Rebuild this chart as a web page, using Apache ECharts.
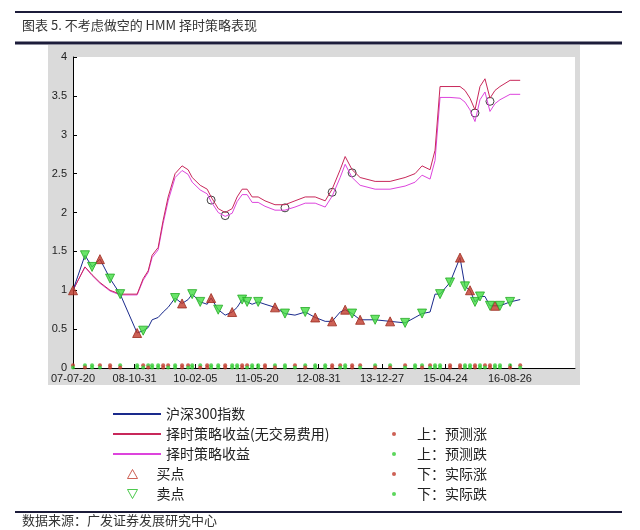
<!DOCTYPE html>
<html><head><meta charset="utf-8">
<script src="https://cdn.jsdelivr.net/npm/echarts@6/dist/echarts.min.js"></script>
<style>html,body{margin:0;padding:0;background:#fff}#c{width:640px;height:530px}</style>
</head><body><div id="c"></div>
<script>
const dates = ['2007-07-20','2007-10-19','2007-12-12','2008-02-10','2008-04-27','2008-07-13','2008-11-19','2009-01-04','2009-02-11','2009-03-13',
'2009-04-28','2009-06-05','2009-07-13','2009-09-04','2009-10-27','2009-12-12','2010-01-12','2010-03-14','2010-05-06','2010-06-05',
'2010-07-29','2010-09-20','2010-11-12','2010-12-20','2011-01-27','2011-03-06','2011-04-13','2011-05-29','2011-07-20','2011-10-04',
'2011-12-19','2012-03-04','2012-05-21','2012-08-05','2012-10-20','2012-12-12','2013-02-11','2013-03-21','2013-05-13','2013-07-13',
'2013-11-04','2014-02-26','2014-06-20','2014-09-04','2014-10-27','2014-12-27','2015-02-03','2015-03-13','2015-05-28','2015-08-12',
'2015-09-19','2015-10-27','2015-12-04','2016-01-11','2016-02-18','2016-03-27','2016-05-04','2016-06-11','2016-08-27','2016-11-12'];
const hs300 = [1.00,1.45,1.30,1.40,1.15,0.95,0.45,0.48,0.52,0.62,
0.65,0.72,0.78,0.90,0.83,0.88,0.95,0.85,0.82,0.90,
0.75,0.68,0.72,0.78,0.88,0.85,0.82,0.85,0.82,0.78,
0.70,0.68,0.72,0.65,0.60,0.60,0.72,0.75,0.70,0.62,
0.62,0.60,0.58,0.65,0.70,0.72,0.95,0.95,1.10,1.42,
1.05,1.00,0.85,0.92,0.92,0.80,0.80,0.80,0.85,0.88];
const stratNoFee = [1.00,1.30,1.20,1.10,1.00,0.95,0.95,1.15,1.25,1.45,
1.55,1.90,2.20,2.50,2.60,2.55,2.45,2.35,2.30,2.20,
2.05,2.00,2.05,2.20,2.30,2.30,2.20,2.20,2.15,2.10,
2.10,2.15,2.20,2.20,2.15,2.30,2.55,2.72,2.55,2.45,
2.40,2.40,2.45,2.50,2.60,2.55,2.80,3.62,3.62,3.62,
3.57,3.47,3.32,3.62,3.72,3.47,3.57,3.62,3.70,3.70];
const stratFee = [1.00,1.30,1.19,1.09,0.99,0.94,0.94,1.13,1.23,1.42,
1.52,1.86,2.15,2.45,2.54,2.49,2.39,2.29,2.24,2.14,
2.00,1.95,1.99,2.14,2.23,2.23,2.13,2.13,2.08,2.03,
2.03,2.07,2.12,2.12,2.07,2.21,2.45,2.62,2.45,2.35,
2.30,2.30,2.34,2.39,2.48,2.43,2.67,3.48,3.48,3.47,
3.42,3.32,3.17,3.45,3.55,3.30,3.40,3.45,3.52,3.52];
const circleIdx = [19,21,30,35,38,52,55];
const buyIdx = [0,3,6,14,19,22,29,33,35,37,39,41,49,51,56];
const sellIdx = [1,2,4,5,7,13,16,17,20,24,25,27,30,32,38,40,42,44,47,48,50,52,53,55,57,58];
const predSig =   'udduudduddduuduudduddudduuddudduddduuduudduddudduudduduudddu';
const actualSig = 'dudduuddudduddudduuddudduddduudduddudduduudduddduuddudduddud';
const tickLabels = ['2007-07-20','2008-10-31','2010-02-05','2011-05-20','2012-08-31','2013-12-27','2015-04-24','2016-08-26'];

const day0 = Date.UTC(2007,6,20);
const toDay = s => { const p = s.split('-').map(Number); return Math.round((Date.UTC(p[0],p[1]-1,p[2]) - day0)/86400000); };
const dx = dates.map(toDay);
const tickDays = tickLabels.map(toDay);
const fmt = v => { const d = new Date(day0 + v*86400000); const p = n => String(n).padStart(2,'0'); return p(d.getUTCFullYear()%100)+'-'+p(d.getUTCMonth()+1)+'-'+p(d.getUTCDate()); };
const pts = arr => arr.map((v,i)=>[dx[i],v]);
const sig = (s,ch,y) => dx.map((d,i)=> s[i]===ch ? [d,y] : null).filter(Boolean);

const CJK = '"Noto Sans CJK SC", sans-serif';
const chart = echarts.init(document.getElementById('c'));
chart.setOption({
  animation:false,
  backgroundColor:'#fff',
  graphic:[
    {type:'rect', shape:{x:48,y:45,width:532,height:340}, style:{fill:'#dadada'}, z:-10},
    {type:'line', shape:{x1:15,y1:12,x2:622,y2:12}, style:{stroke:'#1c1c3a',lineWidth:2}},
    {type:'line', shape:{x1:15,y1:43,x2:622,y2:43}, style:{stroke:'#1c1c3a',lineWidth:3}},
    {type:'line', shape:{x1:15,y1:512,x2:622,y2:512}, style:{stroke:'#1c1c3a',lineWidth:2}},
    {type:'text', left:22, top:19, style:{text:'图表 5. 不考虑做空的 HMM 择时策略表现', font:'13px '+CJK, fill:'#333'}},
    {type:'text', left:22, top:514, style:{text:'数据来源：广发证券发展研究中心', font:'13px '+CJK, fill:'#333'}}
  ],
  grid:{left:73,right:65,top:57,bottom:162,show:true,backgroundColor:'#fff',borderWidth:0},
  xAxis:{type:'value',min:0,max:3820,
    axisLine:{lineStyle:{color:'#000'}},splitLine:{show:false},
    axisTick:{customValues:tickDays,inside:true,length:4,lineStyle:{color:'#000'}},
    axisLabel:{customValues:tickDays,formatter:fmt,color:'#222',fontSize:11,fontFamily:'Liberation Sans',margin:5}},
  yAxis:{type:'value',min:0,max:4,interval:0.5,
    axisLine:{show:true,lineStyle:{color:'#000'}},splitLine:{show:false},
    axisTick:{inside:true,length:4,lineStyle:{color:'#000'}},
    axisLabel:{color:'#222',fontSize:11,fontFamily:'Liberation Sans',margin:6}},
  legend:[
    {orient:'vertical',left:108,top:400,itemGap:2,itemWidth:48,itemHeight:2,icon:'rect',
     textStyle:{fontFamily:CJK,fontSize:14,color:'#222',lineHeight:18},
     data:['沪深300指数','择时策略收益(无交易费用)','择时策略收益']},
    {orient:'vertical',left:122,top:460,itemGap:2,itemWidth:10,itemHeight:9,
     textStyle:{fontFamily:CJK,fontSize:14,color:'#222',lineHeight:18,padding:[0,0,0,14]},
     data:[{name:'买点',icon:'triangle',itemStyle:{color:'transparent',borderColor:'#c0392b',borderWidth:1}},
           {name:'卖点',icon:'path://M0,0L10,0L5,9Z',itemStyle:{color:'transparent',borderColor:'#22bb22',borderWidth:1}}]},
    {orient:'vertical',left:387,top:420,itemGap:2,itemWidth:4,itemHeight:4,icon:'circle',
     textStyle:{fontFamily:CJK,fontSize:14,color:'#222',lineHeight:18,padding:[0,0,0,16]},
     data:['上：预测涨','上：预测跌','下：实际涨','下：实际跌']}
  ],
  series:[
    {name:'择时策略收益',type:'line',data:pts(stratFee),symbol:'none',lineStyle:{width:1,color:'#dd44dd'},itemStyle:{color:'#dd44dd'}},
    {name:'择时策略收益(无交易费用)',type:'line',data:pts(stratNoFee),symbol:'none',lineStyle:{width:1,color:'#c8285a'},itemStyle:{color:'#c8285a'}},
    {name:'沪深300指数',type:'line',data:pts(hs300),symbol:'none',lineStyle:{width:1,color:'#1a2a8c'},itemStyle:{color:'#1a2a8c'}},
    {name:'circles',type:'scatter',data:circleIdx.map(i=>[dx[i],stratNoFee[i]-0.04]),symbol:'circle',symbolSize:8,itemStyle:{color:'transparent',borderColor:'#111',borderWidth:1}},
    {name:'买点',type:'scatter',data:buyIdx.map(i=>[dx[i],hs300[i]]),symbol:'triangle',symbolSize:9,itemStyle:{color:'#c0392b',borderColor:'#9b2a1e',borderWidth:1},z:5},
    {name:'卖点',type:'scatter',data:sellIdx.map(i=>[dx[i],hs300[i]]),symbol:'path://M0,0L10,0L5,9Z',symbolSize:9,itemStyle:{color:'#44dd44',borderColor:'#22aa22',borderWidth:1},z:5},
    {name:'上：预测涨',type:'scatter',data:sig(predSig,'u',0.035),symbolSize:4,itemStyle:{color:'#c0392b'}},
    {name:'上：预测跌',type:'scatter',data:sig(predSig,'d',0.035),symbolSize:4,itemStyle:{color:'#33cc33'}},
    {name:'下：实际涨',type:'scatter',data:sig(actualSig,'u',0.005),symbolSize:4,itemStyle:{color:'#c0392b'}},
    {name:'下：实际跌',type:'scatter',data:sig(actualSig,'d',0.005),symbolSize:4,itemStyle:{color:'#33cc33'}}
  ]
});
</script></body></html>
